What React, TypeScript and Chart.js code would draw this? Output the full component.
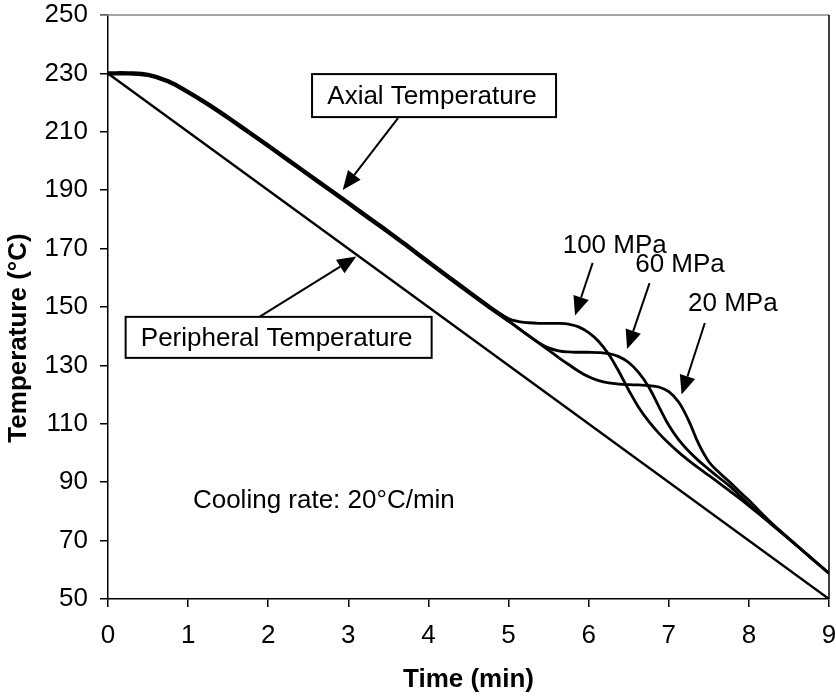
import React, { useEffect, useRef } from "react";
import { Chart, registerables } from "chart.js";

Chart.register(...registerables);

// Time axis (min) and temperature data (°C)
const commonTime = [0, 0.25, 0.5, 0.75, 1, 1.25, 1.5, 1.75, 2, 2.25, 2.5, 2.75, 3, 3.25, 3.5, 3.75, 4, 4.25, 4.5, 4.75];
const commonTemp = [230, 230, 229.5, 227.3, 223.6, 219.4, 214.8, 210, 205.2, 200.3, 195.4, 190.5, 185.6, 180.6, 175.7, 170.6, 165.4, 160.3, 155.2, 150.2];

const tailTime = [5, 5.125, 5.25, 5.375, 5.5, 5.625, 5.75, 5.875, 6, 6.125, 6.25, 6.375, 6.5, 6.625, 6.75, 6.875, 7, 7.125, 7.25, 7.375, 7.5, 7.625, 7.75, 7.875, 8, 8.25, 8.5, 8.75, 9];
const temp100MPa = [146.0, 145.0, 144.6, 144.4, 144.4, 144.4, 144.1, 143.2, 141.2, 138.2, 133.8, 128.0, 121.5, 115.6, 110.8, 106.8, 103.3, 100.2, 97.4, 94.8, 92.3, 89.8, 87.2, 84.6, 81.9, 76.3, 70.6, 64.7, 58.8];
const temp60MPa = [145.2, 142.7, 140.2, 137.8, 136.0, 135.0, 134.6, 134.5, 134.5, 134.4, 134.0, 133.0, 131.0, 127.5, 122.6, 116.0, 109.5, 104.5, 100.6, 97.3, 94.4, 91.6, 88.9, 85.7, 82.4, 76.4, 70.6, 64.7, 58.8];
const temp20MPa = [145.2, 142.7, 140.2, 137.7, 135.2, 132.7, 130.3, 128.0, 126.1, 124.8, 124.0, 123.6, 123.4, 123.3, 123.1, 122.6, 121.0, 117.4, 111.0, 103.0, 97.0, 93.4, 90.3, 87.0, 83.8, 76.9, 70.7, 64.7, 58.8];

const peripheralTime = [0, 9];
const peripheralTemp = [230, 50];

const xTickLabels = ["0", "1", "2", "3", "4", "5", "6", "7", "8", "9"];
const yTickLabels = ["50", "70", "90", "110", "130", "150", "170", "190", "210", "230", "250"];

const FONT = "'Liberation Sans', Arial, Helvetica, sans-serif";

function pts(xs: number[], ys: number[]) {
  return xs.map((x, i) => ({ x, y: ys[i] }));
}

const common = pts(commonTime, commonTemp);

type Box = { text: string; cx: number; cy: number; w: number; h: number };
type Arrow = { x1: number; y1: number; x2: number; y2: number };
type Label = { text: string; x: number; y: number; align: CanvasTextAlign };

const boxes: Box[] = [
  { text: "Axial Temperature", cx: 4.07, cy: 222.4, w: 244, h: 43 },
  { text: "Peripheral Temperature", cx: 2.13, cy: 139.6, w: 306, h: 41 },
];
const arrows: Arrow[] = [
  { x1: 3.62, y1: 214.7, x2: 2.93, y2: 190.1 },
  { x1: 1.89, y1: 146.6, x2: 3.1, y2: 167.3 },
  { x1: 6.05, y1: 165.1, x2: 5.83, y2: 147.1 },
  { x1: 6.76, y1: 158.2, x2: 6.48, y2: 135.6 },
  { x1: 7.45, y1: 144.5, x2: 7.16, y2: 120.0 },
];
const labels: Label[] = [
  { text: "100 MPa", x: 6.325, y: 170.9, align: "center" },
  { text: "60 MPa", x: 7.14, y: 164.4, align: "center" },
  { text: "20 MPa", x: 7.8, y: 151.0, align: "center" },
  { text: "Cooling rate: 20°C/min", x: 1.06, y: 83.6, align: "left" },
];

const annotationPlugin = {
  id: "annotations",
  afterDatasetsDraw(chart: any) {
    const { ctx, chartArea, scales } = chart;
    const xs = scales.x;
    const ys = scales.y;
    ctx.save();
    // frame top & right
    ctx.lineWidth = 1.5;
    ctx.strokeStyle = "#8a8a8a";
    ctx.beginPath();
    ctx.moveTo(chartArea.left - 8, chartArea.top);
    ctx.lineTo(chartArea.right, chartArea.top);
    ctx.stroke();
    ctx.strokeStyle = "#000";
    ctx.beginPath();
    ctx.moveTo(chartArea.right, chartArea.top);
    ctx.lineTo(chartArea.right, chartArea.bottom);
    ctx.stroke();

    // arrows
    ctx.strokeStyle = "#000";
    ctx.fillStyle = "#000";
    ctx.lineWidth = 2;
    for (const a of arrows) {
      const x1 = xs.getPixelForValue(a.x1);
      const y1 = ys.getPixelForValue(a.y1);
      const x2 = xs.getPixelForValue(a.x2);
      const y2 = ys.getPixelForValue(a.y2);
      const ang = Math.atan2(y2 - y1, x2 - x1);
      const L = 19;
      const W = 8;
      const bx = x2 - L * Math.cos(ang);
      const by = y2 - L * Math.sin(ang);
      ctx.beginPath();
      ctx.moveTo(x1, y1);
      ctx.lineTo(bx, by);
      ctx.stroke();
      ctx.beginPath();
      ctx.moveTo(x2, y2);
      ctx.lineTo(bx + W * Math.sin(ang), by - W * Math.cos(ang));
      ctx.lineTo(bx - W * Math.sin(ang), by + W * Math.cos(ang));
      ctx.closePath();
      ctx.fill();
    }

    // boxes
    ctx.font = `26px ${FONT}`;
    ctx.textBaseline = "middle";
    for (const b of boxes) {
      const cx = xs.getPixelForValue(b.cx);
      const cy = ys.getPixelForValue(b.cy);
      ctx.fillStyle = "#fff";
      ctx.fillRect(cx - b.w / 2, cy - b.h / 2, b.w, b.h);
      ctx.strokeStyle = "#000";
      ctx.lineWidth = 2;
      ctx.strokeRect(cx - b.w / 2, cy - b.h / 2, b.w, b.h);
      ctx.fillStyle = "#000";
      ctx.textAlign = "center";
      ctx.fillText(b.text, cx - 2, cy + 1);
    }

    // free labels
    for (const l of labels) {
      ctx.fillStyle = "#000";
      ctx.textAlign = l.align;
      ctx.fillText(l.text, xs.getPixelForValue(l.x), ys.getPixelForValue(l.y));
    }

    // axis titles
    ctx.font = `bold 26px ${FONT}`;
    ctx.textAlign = "center";
    ctx.textBaseline = "middle";
    ctx.fillText("Time (min)", (chartArea.left + chartArea.right) / 2, 680);
    ctx.translate(19, 338);
    ctx.rotate(-Math.PI / 2);
    ctx.fillText("Temperature (°C)", 0, 0);
    ctx.restore();
  },
};

export default function App() {
  const ref = useRef<HTMLCanvasElement | null>(null);
  useEffect(() => {
    if (!ref.current) return;
    const lineBase = {
      pointRadius: 0,
      borderColor: "#000",
      fill: false,
      tension: 0.4,
    };
    const chart = new Chart(ref.current, {
      type: "line",
      data: {
        datasets: [
          { ...lineBase, label: "Peripheral", data: pts(peripheralTime, peripheralTemp), borderWidth: 2.4 },
          { ...lineBase, label: "100 MPa", data: [...common, ...pts(tailTime, temp100MPa)], borderWidth: 2.8 },
          { ...lineBase, label: "60 MPa", data: [...common, ...pts(tailTime, temp60MPa)], borderWidth: 2.8 },
          { ...lineBase, label: "20 MPa", data: [...common, ...pts(tailTime, temp20MPa)], borderWidth: 2.8 },
          { ...lineBase, label: "Axial", data: [...common, { x: 5, y: 145.4 }], borderWidth: 4.4 },
        ],
      },
      options: {
        animation: false,
        responsive: false,
        maintainAspectRatio: false,
        layout: { padding: { left: 0, top: 15, right: 7, bottom: 0 } },
        plugins: { legend: { display: false }, tooltip: { enabled: false } },
        scales: {
          x: {
            type: "linear",
            min: 0,
            max: 9,
            ticks: {
              stepSize: 1,
              color: "#000",
              font: { family: FONT, size: 26 },
              padding: 13,
              maxRotation: 0,
              autoSkip: false,
              callback: (_v: any, i: number) => xTickLabels[i],
            },
            grid: { drawOnChartArea: false, drawTicks: true, tickLength: 8, color: "#000", lineWidth: 1.5 },
            border: { color: "#000", width: 1.5 },
            afterFit: (s: any) => {
              s.height = 98;
              s.paddingLeft = 0;
              s.paddingRight = 0;
            },
          },
          y: {
            type: "linear",
            min: 50,
            max: 250,
            ticks: {
              stepSize: 20,
              color: "#000",
              font: { family: FONT, size: 26 },
              padding: 12,
              autoSkip: false,
              callback: (_v: any, i: number) => yTickLabels[i],
            },
            grid: { drawOnChartArea: false, drawTicks: true, tickLength: 8, color: "#000", lineWidth: 1.5 },
            border: { color: "#000", width: 1.5 },
            afterFit: (s: any) => {
              s.width = 108;
              s.paddingTop = 0;
              s.paddingBottom = 0;
            },
          },
        },
      },
      plugins: [annotationPlugin],
    } as any);
    return () => chart.destroy();
  }, []);
  return (
    <div style={{ position: "absolute", left: 0, top: 0, width: 836, height: 697, background: "#fff" }}>
      <canvas ref={ref} width={836} height={697} style={{ width: 836, height: 697, display: "block" }} />
    </div>
  );
}
